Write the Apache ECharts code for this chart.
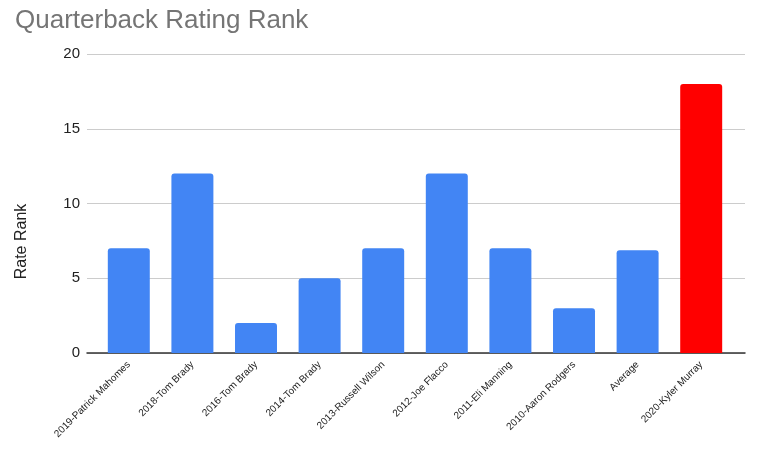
<!DOCTYPE html>
<html><head><meta charset="utf-8">
<script src="https://cdn.jsdelivr.net/npm/echarts@6/dist/echarts.min.js"></script>
<style>html,body{margin:0;padding:0;background:#fff}#c{width:770px;height:449px}</style>
</head><body><div id="c"></div>
<script>
const categories = ["2019-Patrick Mahomes","2018-Tom Brady","2016-Tom Brady","2014-Tom Brady","2013-Russell Wilson","2012-Joe Flacco","2011-Eli Manning","2010-Aaron Rodgers","Average","2020-Kyler Murray"];
const values = [7,12,2,5,7,12,7,3,6.875,18];
const barColors = ["#4285f4","#4285f4","#4285f4","#4285f4","#4285f4","#4285f4","#4285f4","#4285f4","#4285f4","#ff0000"];
const yTicks = [0,5,10,15,20];
const chart = echarts.init(document.getElementById('c'), null, {renderer:'canvas'});
const font = 'Liberation Sans';
chart.setOption({
  animation:false,
  title:{text:'Quarterback Rating Rank',left:10,top:3,textStyle:{fontFamily:font,fontSize:26,fontWeight:'normal',color:'#757575'}},
  grid:[
    {left:87,right:25,top:54,bottom:96,containLabel:false},
    {left:97,right:37,top:54,bottom:96,containLabel:false}
  ],
  xAxis:[
    {type:'category',gridIndex:0,data:categories,
      axisLine:{lineStyle:{color:'#333',width:1.5}},axisTick:{show:false},axisLabel:{show:false}},
    {type:'category',gridIndex:1,data:categories,
      axisLine:{show:false},axisTick:{show:false},
      axisLabel:{rotate:45,interval:0,fontFamily:font,fontSize:10,color:'#222',margin:10}}
  ],
  yAxis:[
    {type:'value',gridIndex:0,min:yTicks[0],max:yTicks[yTicks.length-1],interval:5,name:'Rate Rank',nameLocation:'middle',nameGap:57,
      nameTextStyle:{fontFamily:font,fontSize:16,color:'#222',padding:[0,76,0,0]},
      axisLabel:{fontFamily:font,fontSize:15,color:'#222',margin:7},
      splitLine:{lineStyle:{color:'#cccccc'}},axisLine:{show:false},axisTick:{show:false}},
    {type:'value',gridIndex:1,min:yTicks[0],max:yTicks[yTicks.length-1],interval:5,show:false,splitLine:{show:false}}
  ],
  series:[{type:'bar',xAxisIndex:1,yAxisIndex:1,barWidth:'66%',
    data:values.map((v,i)=>({value:v,itemStyle:{color:barColors[i],borderRadius:[3,3,0,0]}}))}]
});
</script></body></html>
